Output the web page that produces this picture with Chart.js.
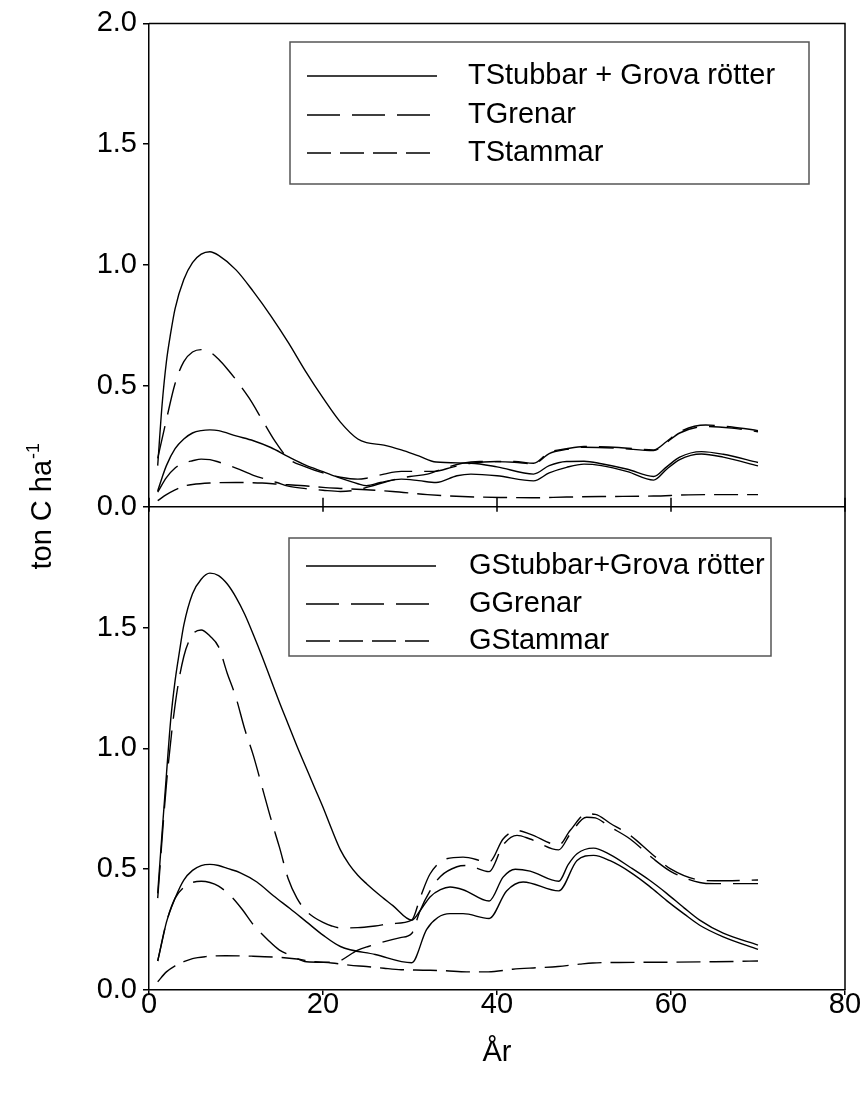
<!DOCTYPE html>
<html><head><meta charset="utf-8">
<script src="https://cdn.jsdelivr.net/npm/chart.js@4/dist/chart.umd.min.js"></script>
<style>html,body{margin:0;padding:0;background:#fff;}#wrap{position:relative;width:862px;height:1097px;}</style>
</head><body><div id="wrap"><canvas id="c" width="862" height="1097"></canvas></div>
<script>
// ---------- DATA ----------
const xTicks = [0, 20, 40, 60, 80];
const yTicks = [0, 0.5, 1.0, 1.5, 2.0];
const topLabels = ['TStubbar + Grova rötter', 'TGrenar', 'TStammar'];
const botLabels = ['GStubbar+Grova rötter', 'GGrenar', 'GStammar'];
const yTitleMain = 'ton C ha';
const yTitleSup = '-1';
const xTitle = 'År';

// Top panel (T)
const tS1Years = [1,1.5,2,2.5,3,4,5,6,7,8,10,12,14,16,18,20,22,24,25,27,29,31,33,37,40,44.2,46,48,50,52,55,58,59.5,61,63.5,66,70];
const tS1Vals  = [0.17,0.42,0.6,0.72,0.82,0.94,1.01,1.045,1.055,1.04,0.98,0.89,0.79,0.68,0.56,0.45,0.35,0.28,0.265,0.255,0.235,0.21,0.185,0.18,0.165,0.135,0.17,0.187,0.188,0.178,0.155,0.125,0.165,0.205,0.228,0.217,0.183];
const tS2Years = [1,1.5,2,3,4,5,6,7,8,10,12,14,16,18,20,22,24,25,26.6,29,31,33,35.4,37,40,44.2,46,48,50,52,55,58,59.5,61,63.5,66,70];
const tS2Vals  = [0.065,0.12,0.17,0.24,0.28,0.305,0.315,0.318,0.315,0.293,0.273,0.245,0.207,0.172,0.145,0.118,0.095,0.087,0.1,0.114,0.108,0.1,0.128,0.135,0.128,0.107,0.14,0.163,0.176,0.17,0.145,0.11,0.155,0.195,0.218,0.205,0.169];
const tG1Years = [1,2,3,4,5,6,7,8,9,10,11.5,13,14.5,16,18,20,22,24,25,27,29,32.7,35,37,40,42,44.2,46,48,50,54,58,59.5,61,64,67,70];
const tG1Vals  = [0.2,0.36,0.51,0.6,0.64,0.65,0.64,0.61,0.57,0.525,0.45,0.36,0.27,0.2,0.165,0.14,0.122,0.114,0.118,0.135,0.146,0.146,0.165,0.18,0.187,0.187,0.18,0.225,0.24,0.249,0.245,0.235,0.27,0.31,0.338,0.33,0.315];
const tG2Years = [1,2,3,4,5,6,7,8,10,12,14.7,16,18,20,22,24,26,28,30,32,34,36,38,42,44.2,46,48,50,54,58,59.5,61,64,67,70];
const tG2Vals  = [0.06,0.12,0.16,0.18,0.19,0.197,0.195,0.185,0.16,0.13,0.1,0.085,0.075,0.068,0.063,0.07,0.09,0.11,0.125,0.135,0.16,0.18,0.187,0.184,0.177,0.22,0.237,0.246,0.242,0.232,0.266,0.305,0.332,0.325,0.31];
const tStYears = [1,2,3,4,5,7,10,13,15,17.4,20,22.5,25,28,32,36,41,44,48,52,58,62,66,70];
const tStVals  = [0.025,0.05,0.07,0.085,0.092,0.098,0.1,0.098,0.093,0.088,0.08,0.075,0.07,0.063,0.05,0.042,0.038,0.037,0.04,0.042,0.044,0.049,0.05,0.05];

// Bottom panel (G)
const gS1Years = [1,1.5,2,2.5,3,3.5,4,5,6,7,8,9,10,11,12,13,14,15,16,17,18,19,20,21,22,23,24,25,26.6,28,30.2,31.2,32.3,33.5,34.6,36.1,39.1,40.7,42.1,43.8,47.1,48.2,49.2,51.1,53,55.3,57.5,59.5,61.5,63.3,66,70];
const gS1Vals  = [0.4,0.65,0.89,1.12,1.28,1.4,1.51,1.64,1.7,1.725,1.715,1.68,1.625,1.555,1.47,1.38,1.285,1.19,1.1,1.01,0.925,0.84,0.756,0.665,0.58,0.52,0.475,0.44,0.39,0.35,0.289,0.33,0.385,0.415,0.426,0.415,0.368,0.467,0.5,0.492,0.45,0.52,0.564,0.587,0.56,0.508,0.455,0.4,0.34,0.289,0.235,0.186];
const gS2Years = [1,1.5,2,3,4,5,6,7,8,9,10.5,12.4,14.3,16.2,18.1,20,22,26,30.2,31.9,33.2,34.6,36.1,39.1,41.1,43,47.1,49.2,51.1,53,55.3,57.5,59.5,61.5,63.3,66,70];
const gS2Vals  = [0.12,0.2,0.28,0.38,0.455,0.495,0.515,0.52,0.515,0.503,0.485,0.447,0.39,0.337,0.282,0.227,0.18,0.147,0.113,0.25,0.3,0.316,0.316,0.296,0.41,0.447,0.41,0.536,0.557,0.535,0.488,0.43,0.37,0.315,0.268,0.22,0.168];
const gG1Years = [1,2,3,4,5,6,7,8,9,10,11,12,13,14,15,16,17,18,19,20,21,22,24,26,28,30.2,31.2,32.3,34.2,36.1,39.1,40.7,42.3,43.8,47.1,48.4,50.3,51.3,53,55.3,57.9,60,63.3,65,70];
const gG1Vals  = [0.38,0.85,1.18,1.38,1.47,1.49,1.465,1.42,1.31,1.21,1.08,0.97,0.84,0.71,0.59,0.46,0.38,0.33,0.3,0.28,0.265,0.257,0.258,0.265,0.275,0.289,0.385,0.48,0.543,0.55,0.53,0.625,0.66,0.645,0.6,0.66,0.729,0.727,0.69,0.64,0.56,0.5,0.455,0.452,0.455];
const gG2Years = [1,2,3,4,5,6,7,8,9.5,10.7,12,13.7,15,16.5,18.1,20,21.5,24,25.2,28.9,30.2,31.1,32.3,33.5,35.4,36.5,39.1,40.7,42.3,43.8,47.1,48.4,50.3,51.3,53,55.3,57.9,60,63.3,65,70];
const gG2Vals  = [0.12,0.28,0.38,0.425,0.445,0.45,0.445,0.43,0.385,0.334,0.27,0.206,0.165,0.14,0.117,0.115,0.117,0.165,0.18,0.217,0.234,0.323,0.41,0.47,0.51,0.515,0.49,0.6,0.64,0.625,0.58,0.645,0.715,0.712,0.675,0.625,0.545,0.49,0.445,0.44,0.44];
const gStYears = [1,2,3,4,5,6.5,8.8,11.8,15,17,19,21,23,25,27,29,31.5,34,36.5,39,41.8,44.5,47,49.5,51,54,60,65,70];
const gStVals  = [0.034,0.075,0.1,0.117,0.13,0.138,0.142,0.14,0.135,0.128,0.117,0.112,0.103,0.097,0.09,0.084,0.082,0.08,0.075,0.075,0.086,0.092,0.097,0.107,0.112,0.114,0.115,0.117,0.12];

// ---------- STYLE ----------
const FONT = 'Liberation Sans, Arial, Helvetica, sans-serif';
const FS = 29;
const solid = [];
const grenDash = [33, 12];
const stamDash = [24, 9];

function pts(xs, ys) { return xs.map((x, i) => ({x: x, y: ys[i]})); }
function ds(label, xs, ys, dash, axis) {
  return {label, data: pts(xs, ys), yAxisID: axis, borderColor: '#000', borderWidth: 1.4,
    borderDash: dash, pointRadius: 0, fill: false, cubicInterpolationMode: 'monotone'};
}

const datasets = [
  ds(topLabels[0], tS1Years, tS1Vals, solid, 'yTop'),
  ds(topLabels[0] + ' 2', tS2Years, tS2Vals, solid, 'yTop'),
  ds(topLabels[1], tG1Years, tG1Vals, grenDash, 'yTop'),
  ds(topLabels[1] + ' 2', tG2Years, tG2Vals, grenDash, 'yTop'),
  ds(topLabels[2], tStYears, tStVals, stamDash, 'yTop'),
  ds(botLabels[0], gS1Years, gS1Vals, solid, 'yBot'),
  ds(botLabels[0] + ' 2', gS2Years, gS2Vals, solid, 'yBot'),
  ds(botLabels[1], gG1Years, gG1Vals, grenDash, 'yBot'),
  ds(botLabels[1] + ' 2', gG2Years, gG2Vals, grenDash, 'yBot'),
  ds(botLabels[2], gStYears, gStVals, stamDash, 'yBot')
];

const legendPanels = [
  {labels: topLabels, sets: [0, 2, 4], box: [290, 42, 519, 142], rows: [76, 115, 153], lineX: [307, 437], textX: 468},
  {labels: botLabels, sets: [5, 7, 9], box: [289, 538, 482, 118], rows: [566, 604, 641], lineX: [306, 436], textX: 469}
];

const panelPlugin = {
  id: 'panelPlugin',
  afterDraw(chart) {
    const {ctx, chartArea: a, scales} = chart;
    ctx.save();
    ctx.strokeStyle = '#000';
    ctx.lineWidth = 1.5;
    ctx.beginPath();
    ctx.moveTo(a.left, a.top); ctx.lineTo(a.right, a.top); ctx.lineTo(a.right, a.bottom);
    ctx.stroke();
    const ym = scales.yTop.getPixelForValue(0);
    ctx.beginPath();
    ctx.moveTo(a.left, ym); ctx.lineTo(a.right, ym);
    xTicks.forEach(v => {
      const px = scales.x.getPixelForValue(v);
      ctx.moveTo(px, ym - 9); ctx.lineTo(px, ym + 5);
    });
    ctx.stroke();
    // legends
    legendPanels.forEach(p => {
      ctx.strokeStyle = '#555';
      ctx.lineWidth = 1.5;
      ctx.setLineDash([]);
      ctx.strokeRect(p.box[0], p.box[1], p.box[2], p.box[3]);
      p.sets.forEach((di, k) => {
        const d = chart.data.datasets[di];
        const len = d.borderDash.length ? 123 : (p.lineX[1] - p.lineX[0]);
        ctx.strokeStyle = '#000';
        ctx.lineWidth = 1.4;
        ctx.setLineDash(d.borderDash);
        ctx.beginPath();
        ctx.moveTo(p.lineX[0], p.rows[k]); ctx.lineTo(p.lineX[0] + len, p.rows[k]);
        ctx.stroke();
        ctx.setLineDash([]);
        ctx.fillStyle = '#000';
        ctx.font = FS + 'px ' + FONT;
        ctx.textBaseline = 'middle';
        ctx.textAlign = 'left';
        ctx.fillText(p.labels[k], p.textX, p.rows[k]);
      });
    });
    // y title
    const yc = (scales.yTop.top + scales.yBot.bottom) / 2;
    ctx.translate(41, yc);
    ctx.rotate(-Math.PI / 2);
    ctx.font = FS + 'px ' + FONT;
    const w1 = ctx.measureText(yTitleMain).width;
    const supFont = Math.round(FS * 0.62) + 'px ' + FONT;
    ctx.font = supFont;
    const w2 = ctx.measureText(yTitleSup).width;
    const start = -(w1 + w2) / 2;
    ctx.fillStyle = '#000';
    ctx.textBaseline = 'alphabetic';
    ctx.textAlign = 'left';
    ctx.font = FS + 'px ' + FONT;
    ctx.fillText(yTitleMain, start, 10);
    ctx.font = supFont;
    ctx.fillText(yTitleSup, start + w1 + 1, -2);
    ctx.restore();
  }
};

const tickFont = {family: FONT, size: FS};
function yScale(weight, hideTop) {
  return {
    type: 'linear', position: 'left', stack: 'panels', stackWeight: 1, weight: weight,
    min: 0, max: 2,
    afterBuildTicks(s) { s.ticks = yTicks.filter(v => !(hideTop && v === 2)).map(v => ({value: v})); },
    ticks: {color: '#000', font: tickFont, padding: 6, callback: v => v.toFixed(1)},
    grid: {drawOnChartArea: false, drawTicks: true, tickLength: 6, color: '#000', lineWidth: 1.5},
    border: {display: true, color: '#000', width: 1.5},
    afterFit(s) { s.width = 149; }
  };
}

new Chart(document.getElementById('c'), {
  type: 'line',
  data: {datasets},
  options: {
    responsive: false, animation: false, events: [],
    layout: {padding: {left: 0, right: 17, top: 22, bottom: 0}},
    plugins: {legend: {display: false}, tooltip: {enabled: false}, title: {display: false}},
    scales: {
      x: {
        type: 'linear', position: 'bottom', min: 0, max: 80,
        afterBuildTicks(s) { s.ticks = xTicks.map(v => ({value: v})); },
        ticks: {color: '#000', font: tickFont, padding: -7, maxRotation: 0},
        grid: {drawOnChartArea: false, drawTicks: true, tickLength: 5, color: '#000', lineWidth: 1.5},
        border: {display: true, color: '#000', width: 1.5},
        title: {display: true, text: xTitle, color: '#000', font: {family: FONT, size: FS}, padding: {top: 4, bottom: 27}},
        afterFit(s) { s.height = 107; }
      },
      yTop: yScale(2, false),
      yBot: yScale(1, true)
    }
  },
  plugins: [panelPlugin]
});
</script></body></html>
